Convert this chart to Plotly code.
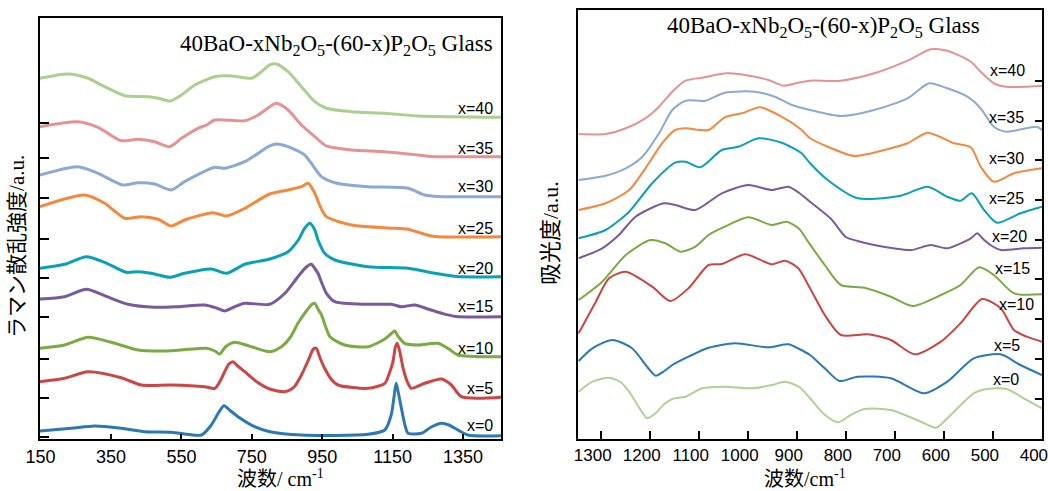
import plotly.graph_objects as go

# ---------------- Raman (left panel) ----------------
raman_labels = ["x=0", "x=5", "x=10", "x=15", "x=20", "x=25", "x=30", "x=35", "x=40"]
raman_colors = ["#2a79b6", "#cc4646", "#7aab42", "#7a5a9c", "#0aa0b6", "#f5883c", "#8aa9d5", "#e69293", "#a9d08e"]

raman_wn_x0 = [148, 237, 304, 379, 446, 521, 607, 635, 655, 671, 690, 711, 758, 801, 891, 1080, 1128, 1146, 1154, 1160, 1167, 1175, 1185, 1194, 1232, 1260, 1289, 1310, 1327, 1364, 1458]
raman_in_x0 = [8, 10.7, 13, 10.7, 7.3, 6.7, 4, 14, 26, 33.3, 28, 22.3, 12.3, 7.3, 4, 4.7, 9, 24, 42, 55.7, 45, 30.7, 14, 5.7, 5.7, 12, 15.7, 14, 10.7, 4, 3.3]

raman_wn_x5 = [148, 218, 285, 379, 436, 521, 616, 645, 660, 673, 685, 697, 710, 730, 765, 801, 844, 870, 891, 912, 925, 933, 945, 957, 975, 995, 1080, 1128, 1140, 1151, 1158, 1163, 1170, 1180, 1192, 1203, 1241, 1289, 1317, 1345, 1458]
raman_in_x5 = [57.3, 60.7, 67.3, 61.3, 54, 54, 52.3, 50.7, 58, 67.3, 75, 77.3, 73, 67.3, 57, 50, 47.3, 52, 64, 80, 90, 90.7, 80, 70.7, 60, 54, 50.7, 55.7, 65, 77.3, 92, 95.7, 88, 70.7, 57, 50.7, 55.7, 60, 54, 42.3, 41.7]

raman_wn_x10 = [148, 218, 285, 351, 427, 503, 569, 621, 645, 659, 675, 701, 749, 801, 834, 860, 881, 905, 922, 929, 938, 948, 960, 972, 1014, 1080, 1128, 1145, 1156, 1165, 1184, 1222, 1279, 1310, 1336, 1458]
raman_in_x10 = [90.7, 94, 101.7, 96.7, 89, 88, 89.7, 90.7, 88, 85, 92, 96.7, 92.3, 87.3, 92.3, 102, 115.7, 128, 135, 135.7, 130, 124, 112, 102.3, 94, 92.3, 100, 105, 108, 103, 95.7, 94, 95.7, 90, 84, 82.3]

raman_wn_x15 = [148, 218, 280, 332, 398, 474, 540, 616, 650, 673, 700, 730, 801, 844, 881, 905, 919, 930, 938, 950, 962, 986, 1080, 1146, 1175, 1213, 1250, 1289, 1330, 1458]
raman_in_x15 = [140, 142.3, 149.7, 143.3, 134.7, 131.7, 132.3, 134, 131, 128, 132, 135.7, 134.7, 145.7, 162.3, 172, 174.7, 170, 165.7, 155, 145.7, 137.3, 134.7, 134.7, 132.3, 134, 130, 125.7, 122.5, 122.3]

raman_wn_x20 = [148, 218, 280, 332, 393, 427, 464, 517, 559, 635, 678, 730, 801, 853, 882, 900, 915, 929, 938, 957, 986, 1080, 1194, 1270, 1330, 1458]
raman_in_x20 = [170.7, 174.7, 182.3, 176.7, 166.7, 167.3, 165.7, 161.7, 165.7, 170, 165.7, 174.7, 180, 187.3, 199, 210.7, 215.7, 209, 199, 185.7, 179, 172.3, 170.7, 165.7, 162.5, 162.3]

raman_wn_x25 = [148, 275, 332, 389, 436, 484, 521, 559, 640, 678, 730, 801, 853, 891, 910, 929, 945, 962, 1033, 1156, 1190, 1232, 1270, 1458]
raman_in_x25 = [232.3, 244, 235.7, 220.7, 222.3, 219.7, 213, 219, 226.3, 223, 230.7, 245, 249, 252.3, 255.7, 245.7, 232, 222.3, 214, 210.7, 210, 205.7, 202.5, 202.3]

raman_wn_x30 = [148, 256, 313, 384, 427, 474, 521, 559, 645, 673, 730, 801, 820, 853, 900, 919, 948, 986, 1080, 1194, 1241, 1280, 1458]
raman_in_x30 = [264, 272.3, 265.7, 254, 256.3, 255, 249, 257.3, 271.7, 270.7, 277.3, 293, 295, 292.3, 284, 275.7, 262.3, 256.3, 252.3, 250.7, 244, 242.5, 242.3]

raman_wn_x35 = [148, 256, 313, 379, 427, 474, 517, 550, 597, 621, 645, 730, 768, 801, 820, 853, 891, 929, 962, 1033, 1128, 1222, 1260, 1458]
raman_in_x35 = [312.3, 317.3, 311.7, 298.3, 299.7, 297.3, 292.3, 300.7, 310.7, 314, 319, 318.3, 324, 332.3, 335.7, 329, 314, 302.3, 293, 289, 287.3, 284, 282.5, 282.3]

raman_wn_x40 = [148, 228, 285, 332, 389, 455, 484, 517, 550, 588, 645, 692, 749, 772, 801, 820, 853, 891, 929, 962, 1033, 1128, 1222, 1458]
raman_in_x40 = [360.7, 365, 360.7, 352.3, 343.3, 342.3, 340.7, 338, 344, 354, 362.3, 363, 360.7, 365.7, 374, 375, 367.3, 352.3, 337.3, 330.7, 327.3, 325.7, 323, 321.7]

raman_label_y = [13.3, 50.7, 90.7, 132.3, 170.7, 210.7, 252.3, 290.7, 330.7]
raman_xticks = [150, 350, 550, 750, 950, 1150, 1350]
raman_yticks = [2, 41, 80, 122, 161, 200, 241, 281, 316]

# ---------------- Absorption (right panel) ----------------
ir_labels = ["x=0", "x=5", "x=10", "x=15", "x=20", "x=25", "x=30", "x=35", "x=40"]
ir_colors = ["#aed296", "#2a79b6", "#cc4444", "#7aab42", "#7a5a9c", "#0aa0b6", "#f5883c", "#8aa9d5", "#e69293"]

ir_wn_x0 = [1345, 1317, 1283, 1260, 1242, 1220, 1205, 1190, 1170, 1154, 1127, 1093, 1047, 992, 950, 924, 895, 873, 845, 816, 790, 762, 708, 647, 616, 593, 539, 512, 472, 437, 400]
ir_ab_x0 = [47.3, 57.3, 61.3, 57, 47.3, 30, 20.7, 25, 35, 40, 42.3, 50.7, 52.3, 50.7, 54, 57.3, 52, 40.7, 25, 16.7, 24, 30, 29, 17.3, 11.3, 20.7, 45.7, 50, 50, 40.7, 30.7]

ir_wn_x5 = [1345, 1317, 1276, 1236, 1205, 1188, 1170, 1154, 1121, 1080, 1026, 958, 917, 895, 873, 843, 813, 776, 708, 640, 593, 539, 484, 444, 400]
ir_ab_x5 = [78, 90.7, 99, 90.7, 72, 63.3, 68, 74, 82.3, 91.3, 95.7, 91.7, 94.7, 90, 84, 70.7, 58, 62.3, 60.7, 45.7, 57.3, 80.7, 84.7, 74, 64]

ir_wn_x10 = [1345, 1310, 1283, 1249, 1195, 1158, 1121, 1080, 1053, 1005, 951, 924, 897, 873, 843, 810, 755, 708, 660, 606, 566, 522, 484, 457, 431, 400]
ir_ab_x10 = [105.7, 137.3, 160.7, 167.3, 152.3, 138, 150.7, 174, 175, 184.7, 174.7, 178.3, 170.7, 150.7, 124, 104, 104.7, 99, 84.7, 97.3, 115.7, 140, 130.7, 109, 102.3, 97.3]

ir_wn_x15 = [1345, 1297, 1249, 1198, 1168, 1137, 1107, 1080, 1047, 999, 951, 921, 895, 877, 843, 810, 762, 708, 664, 606, 566, 528, 498, 457, 400]
ir_ab_x15 = [139, 157.3, 184, 199, 195.7, 187.3, 192.3, 204, 212.3, 221.7, 214, 217.3, 210, 197.3, 174, 154, 151.3, 142.3, 133, 144, 154, 171.7, 164, 145.7, 144.7]

ir_wn_x20 = [1345, 1297, 1263, 1229, 1171, 1148, 1107, 1053, 999, 951, 917, 895, 873, 830, 800, 776, 742, 667, 627, 593, 545, 532, 520, 505, 484, 437, 400]
ir_ab_x20 = [180.7, 190.7, 204, 222.3, 235.7, 234, 229, 245.7, 254, 249, 252.3, 246, 237.3, 220, 202, 198, 194, 189, 194, 190.7, 200.7, 205.7, 200, 194, 189, 190.7, 191.3]

ir_wn_x25 = [1345, 1290, 1242, 1195, 1148, 1127, 1097, 1053, 1019, 978, 931, 890, 873, 837, 776, 688, 633, 593, 566, 543, 518, 492, 444, 400]
ir_ab_x25 = [200.7, 209, 227.3, 255.7, 276.3, 277.3, 271.7, 289, 292.3, 300.7, 296.3, 285.7, 275.7, 259, 240.7, 243.3, 252.3, 242.3, 238.3, 245.7, 229, 216.3, 225.7, 232.3]

ir_wn_x30 = [1345, 1290, 1242, 1202, 1175, 1148, 1127, 1080, 1047, 1012, 975, 931, 890, 873, 837, 782, 708, 674, 633, 579, 545, 525, 498, 457, 400]
ir_ab_x30 = [229, 235.7, 249, 275.7, 295.7, 309, 310.7, 309, 321.7, 325.7, 331.7, 322.3, 309, 300.7, 292.3, 283, 290.7, 295.7, 306.3, 295.7, 291.7, 272.3, 257.3, 265.7, 270.7]

ir_wn_x35 = [1345, 1290, 1249, 1215, 1181, 1154, 1127, 1087, 1047, 985, 945, 910, 873, 810, 742, 674, 630, 593, 552, 525, 498, 472, 410, 400]
ir_ab_x35 = [259, 263.3, 270.7, 282.3, 305.7, 329, 338.3, 338.3, 346.3, 347.3, 342.3, 334, 329, 323, 329, 340.7, 355.7, 350.7, 342.3, 330.7, 312.3, 307.3, 312.3, 309]

ir_wn_x40 = [1345, 1290, 1249, 1209, 1181, 1154, 1127, 1093, 1042, 985, 958, 927, 897, 873, 810, 742, 674, 627, 593, 545, 525, 498, 472, 400]
ir_ab_x40 = [305, 305, 310.7, 320.7, 332.3, 347.3, 358.3, 361.3, 365.7, 362.3, 359, 353.3, 356.3, 358.3, 358.3, 365.7, 378.3, 389.7, 388.3, 377.3, 367.3, 355.7, 352.3, 353]

ir_label_wn = [473, 471, 451, 461, 467, 473, 473, 473, 471]
ir_label_y = [60, 94, 134.7, 170.7, 202.3, 240.7, 280.7, 321.7, 368.3]
ir_xticks = [1300, 1200, 1100, 1000, 900, 800, 700, 600, 500, 400]
ir_yticks = [40, 80, 120, 160, 199, 239, 279, 318, 358]

title_text = "40BaO-xNb<sub>2</sub>O<sub>5</sub>-(60-x)P<sub>2</sub>O<sub>5</sub> Glass"

raman_wn = [raman_wn_x0, raman_wn_x5, raman_wn_x10, raman_wn_x15, raman_wn_x20,
            raman_wn_x25, raman_wn_x30, raman_wn_x35, raman_wn_x40]
raman_in = [raman_in_x0, raman_in_x5, raman_in_x10, raman_in_x15, raman_in_x20,
            raman_in_x25, raman_in_x30, raman_in_x35, raman_in_x40]
ir_wn = [ir_wn_x0, ir_wn_x5, ir_wn_x10, ir_wn_x15, ir_wn_x20,
         ir_wn_x25, ir_wn_x30, ir_wn_x35, ir_wn_x40]
ir_ab = [ir_ab_x0, ir_ab_x5, ir_ab_x10, ir_ab_x15, ir_ab_x20,
         ir_ab_x25, ir_ab_x30, ir_ab_x35, ir_ab_x40]

fig = go.Figure()
for wn, iv, c, lab in zip(raman_wn, raman_in, raman_colors, raman_labels):
    fig.add_trace(go.Scatter(x=wn, y=iv, mode="lines", name=lab, xaxis="x", yaxis="y",
                             line=dict(color=c, width=3, shape="spline", smoothing=0.7),
                             showlegend=False))
for wn, av, c, lab in zip(ir_wn, ir_ab, ir_colors, ir_labels):
    fig.add_trace(go.Scatter(x=wn, y=av, mode="lines", name=lab, xaxis="x2", yaxis="y2",
                             line=dict(color=c, width=2, shape="spline", smoothing=0.7),
                             showlegend=False))

sans = "Liberation Sans, Arial, sans-serif"
serif = "Liberation Serif, Times New Roman, Noto Sans CJK SC, serif"

annotations = []
for lab, yv in zip(raman_labels, raman_label_y):
    annotations.append(dict(x=1440, y=yv, xref="x", yref="y", text=lab, showarrow=False,
                            xanchor="right", yanchor="middle",
                            font=dict(family=sans, size=16, color="black")))
for lab, xv, yv in zip(ir_labels, ir_label_wn, ir_label_y):
    annotations.append(dict(x=xv, y=yv, xref="x2", yref="y2", text=lab, showarrow=False,
                            xanchor="center", yanchor="middle",
                            font=dict(family=sans, size=16, color="black")))
annotations.append(dict(x=1441, y=394, xref="x", yref="y", text=title_text, showarrow=False,
                        xanchor="right", yanchor="middle",
                        font=dict(family=serif, size=23, color="black")))
annotations.append(dict(x=845, y=412, xref="x2", yref="y2", text=title_text, showarrow=False,
                        xanchor="center", yanchor="middle",
                        font=dict(family=serif, size=23, color="black")))
# axis titles
annotations.append(dict(x=0.2405, y=-0.092, xref="paper", yref="paper", text="波数/ cm<sup>-1</sup>",
                        showarrow=False, xanchor="center", yanchor="middle",
                        font=dict(family=serif, size=20, color="black")))
annotations.append(dict(x=0.7635, y=-0.092, xref="paper", yref="paper", text="波数/cm<sup>-1</sup>",
                        showarrow=False, xanchor="center", yanchor="middle",
                        font=dict(family=serif, size=20, color="black")))
annotations.append(dict(x=-0.023, y=0.45, xref="paper", yref="paper", text="ラマン散乱強度/a.u.",
                        showarrow=False, xanchor="center", yanchor="middle", textangle=-90,
                        font=dict(family="Liberation Serif, Noto Sans CJK JP, serif", size=21, color="black")))
annotations.append(dict(x=0.509, y=0.48, xref="paper", yref="paper", text="吸光度/a.u.",
                        showarrow=False, xanchor="center", yanchor="middle", textangle=-90,
                        font=dict(family=serif, size=22, color="black")))

axis_common = dict(showgrid=False, zeroline=False, showline=True, linecolor="black",
                   linewidth=2, mirror=True, ticks="inside", tickcolor="black", tickwidth=2,
                   automargin=False)

fig.update_layout(
    width=1048, height=491,
    margin=dict(l=40, r=6, t=10, b=52),
    paper_bgcolor="white", plot_bgcolor="white",
    xaxis=dict(domain=[0, 0.4601], range=[148.3, 1458], tickvals=raman_xticks,
               ticklen=5, tickfont=dict(family=sans, size=18, color="black"),
               anchor="y", **axis_common),
    yaxis=dict(domain=[0, 0.9814], range=[0, 421], tickvals=raman_yticks, ticklen=9,
               showticklabels=False, anchor="x", **axis_common),
    xaxis2=dict(domain=[0.5366, 1.0], range=[1347, 399.8], tickvals=ir_xticks,
                ticklen=8, ticklabelshift=8, ticklabeloverflow="allow",
                tickfont=dict(family=sans, size=17, color="black"),
                anchor="y2", **axis_common),
    yaxis2=dict(domain=[0, 1.0], range=[0, 429], tickvals=ir_yticks, ticklen=7,
                showticklabels=False, side="right", anchor="x2", **axis_common),
    annotations=annotations,
)

fig.write_html("out.html")
